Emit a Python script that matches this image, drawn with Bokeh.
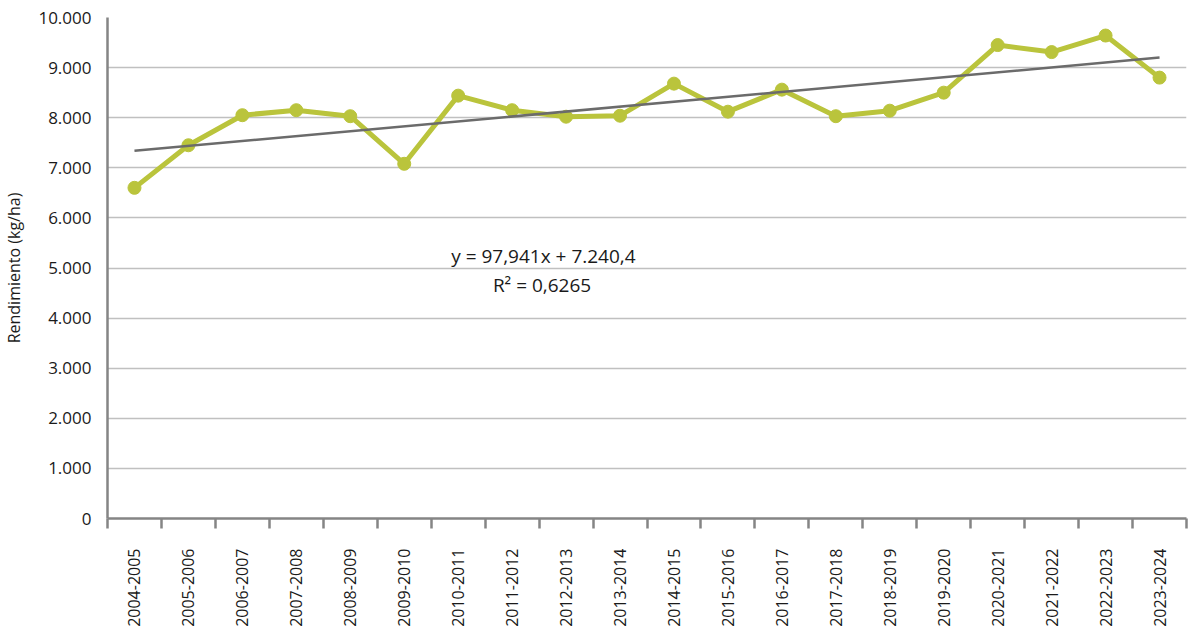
import math
from bokeh.plotting import figure
from bokeh.models import FixedTicker, Range1d, Label
from bokeh.embed import file_html
from bokeh.resources import INLINE

campaigns = ["2004-2005", "2005-2006", "2006-2007", "2007-2008", "2008-2009",
             "2009-2010", "2010-2011", "2011-2012", "2012-2013", "2013-2014",
             "2014-2015", "2015-2016", "2016-2017", "2017-2018", "2018-2019",
             "2019-2020", "2020-2021", "2021-2022", "2022-2023", "2023-2024"]
yield_kg_ha = [6600, 7450, 8050, 8150, 8030, 7080, 8440, 8150, 8020, 8040,
               8680, 8120, 8560, 8030, 8140, 8500, 9450, 9310, 9640, 8800]
trend_slope = 97.941
trend_intercept = 7240.4
r_squared = 0.6265
y_ticks = [0, 1000, 2000, 3000, 4000, 5000, 6000, 7000, 8000, 9000, 10000]
y_tick_labels = ["0", "1.000", "2.000", "3.000", "4.000", "5.000",
                 "6.000", "7.000", "8.000", "9.000", "10.000"]

FONT = "Open Sans"
n = len(campaigns)
xs = list(range(1, n + 1))

p = figure(width=1191, height=629, output_backend="svg", toolbar_location=None,
           x_range=Range1d(0.5, n + 0.5), y_range=Range1d(0, 10000),
           min_border_left=107, min_border_right=5, min_border_top=17,
           min_border_bottom=10)
p.outline_line_color = None
p.background_fill_color = "white"
p.border_fill_color = "white"

# grid
p.xgrid.grid_line_color = None
p.ygrid.grid_line_color = "#c0c0c0"
p.ygrid.grid_line_width = 1.5
p.ygrid.ticker = FixedTicker(ticks=y_ticks)

# y axis
p.yaxis.ticker = FixedTicker(ticks=y_ticks)
p.yaxis.major_label_overrides = {t: l for t, l in zip(y_ticks, y_tick_labels)}
p.yaxis.major_tick_out = 0
p.yaxis.major_tick_in = 0
p.yaxis.minor_tick_out = 0
p.yaxis.minor_tick_in = 0
p.yaxis.axis_line_color = "#858585"
p.yaxis.axis_line_width = 2.5
p.yaxis.major_label_text_font = FONT
p.yaxis.major_label_text_font_size = "17px"
p.yaxis.major_label_text_color = "#1a1a1a"
p.yaxis.major_label_standoff = 16
p.yaxis.axis_label = "Rendimiento (kg/ha)"
p.yaxis.axis_label_text_font = FONT
p.yaxis.axis_label_text_font_size = "16px"
p.yaxis.axis_label_text_font_style = "normal"
p.yaxis.axis_label_text_color = "#1a1a1a"
p.yaxis.axis_label_standoff = 10

# x axis
boundaries = [i + 0.5 for i in range(0, n + 1)]
p.xaxis.ticker = FixedTicker(ticks=xs, minor_ticks=boundaries)
p.xaxis.major_label_overrides = {x: c for x, c in zip(xs, campaigns)}
p.xaxis.major_label_orientation = math.pi / 2
p.xaxis.major_tick_out = 0
p.xaxis.major_tick_in = 0
p.xaxis.minor_tick_out = 10
p.xaxis.minor_tick_in = 0
p.xaxis.minor_tick_line_color = "#858585"
p.xaxis.minor_tick_line_width = 2.5
p.xaxis.axis_line_color = "#858585"
p.xaxis.axis_line_width = 2.5
p.xaxis.major_label_text_font = FONT
p.xaxis.major_label_text_font_size = "16px"
p.xaxis.major_label_text_color = "#1a1a1a"
p.xaxis.major_label_standoff = 20

# data line
GREEN = "#bac43c"
p.line(xs, yield_kg_ha, line_color=GREEN, line_width=5)
p.scatter(xs, yield_kg_ha, size=13, fill_color=GREEN, line_color=GREEN)

# trend line
trend_x = [xs[0], xs[-1]]
trend_y = [trend_slope * x + trend_intercept for x in trend_x]
p.line(trend_x, trend_y, line_color="#6b6b6b", line_width=2.5)

eq = "y = " + f"{trend_slope:.3f}".replace(".", ",") + "x + 7.240,4"
r2 = "R² =  " + f"{r_squared:.4f}".replace(".", ",")
p.add_layout(Label(x=8.58, y=5230, text=eq, text_align="center", text_baseline="middle",
                   text_font=FONT, text_font_size="19px", text_color="#1a1a1a"))
p.add_layout(Label(x=8.6, y=4670, text=r2, text_align="center", text_baseline="middle",
                   text_font=FONT, text_font_size="19px", text_color="#1a1a1a"))

open("out.html", "w").write(file_html(p, INLINE))
